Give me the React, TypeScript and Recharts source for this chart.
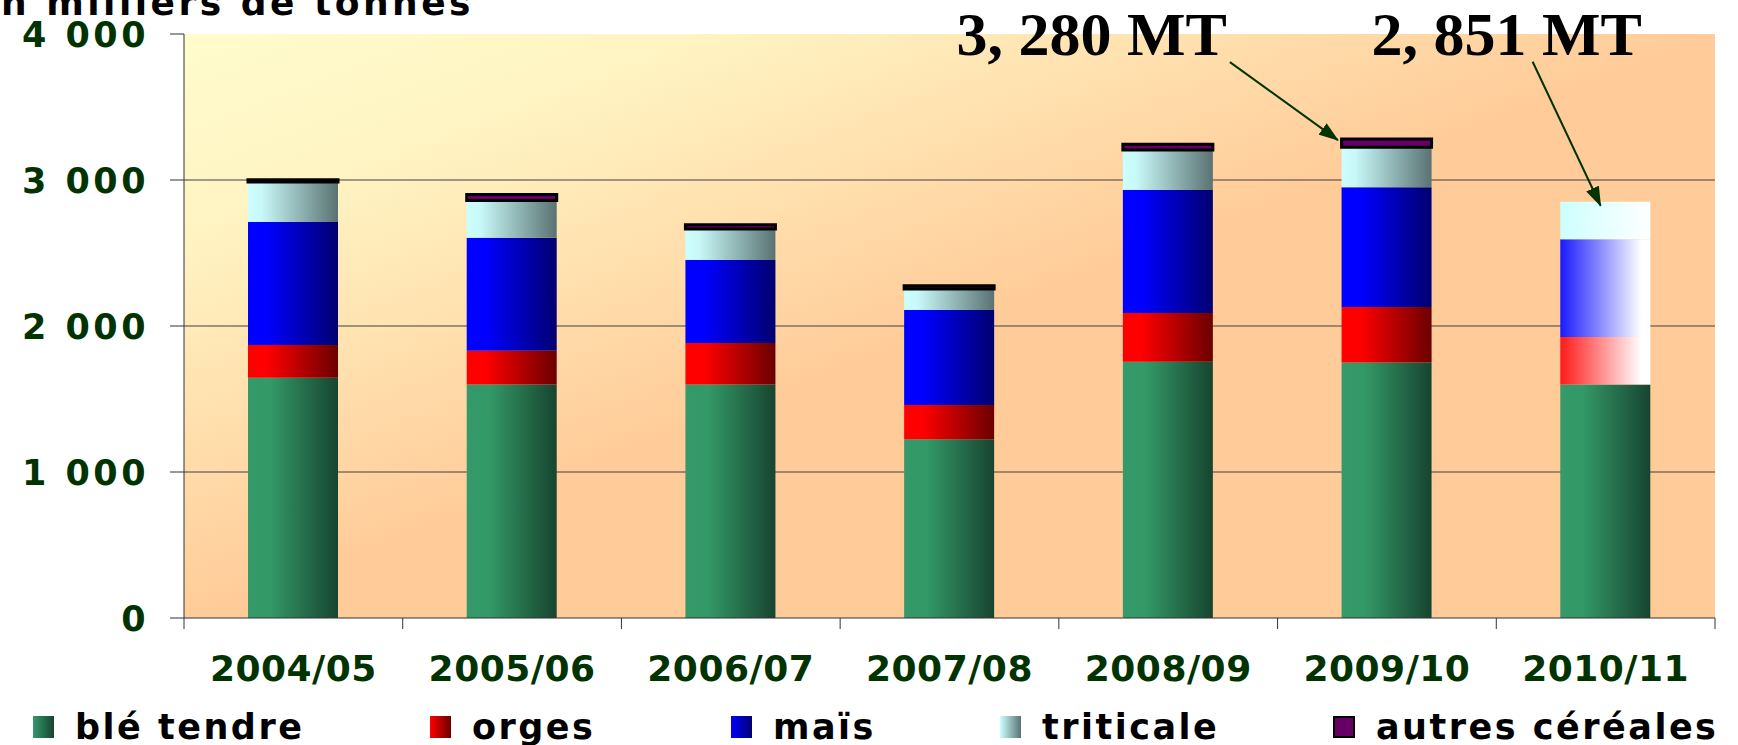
import React from 'react';
import { BarChart, Bar, XAxis, YAxis, CartesianGrid, Cell, ReferenceDot } from 'recharts';

const years = ['2004/05', '2005/06', '2006/07', '2007/08', '2008/09', '2009/10', '2010/11'];
const bleTendre = [1645, 1600, 1600, 1225, 1755, 1750, 1600];
const orges = [225, 230, 284, 234, 334, 380, 325];
const mais = [842, 775, 568, 651, 843, 820, 670];
const triticale = [274, 255, 212, 143, 273, 275, 256];
const autres = [15, 40, 30, 23, 40, 55, 0];
const yTicks = [0, 1000, 2000, 3000, 4000];
const gridValues = [1000, 2000, 3000];
const totalLabels = ['3, 280 MT', '2, 851 MT'];
const seriesNames = ['blé tendre', 'orges', 'maïs', 'triticale', 'autres céréales'];

const data = years.map((year, i) => ({
  year,
  ble: bleTendre[i],
  orges: orges[i],
  mais: mais[i],
  triticale: triticale[i],
  autres: autres[i],
}));

const total = (i: number) => bleTendre[i] + orges[i] + mais[i] + triticale[i] + autres[i];

const W = 1738;
const H = 745;
const M = { top: 34, right: 23, bottom: 0, left: 0 };
const YW = 184;
const XH = 127;
const BAND = (W - YW - M.right) / years.length;
const LAST = years.length - 1;
const FONT = '"DejaVu Sans", Verdana, sans-serif';
const GREEN = '#003300';

const fmt = (v: number) => (v === 0 ? '0' : `${Math.floor(v / 1000)} ${String(v % 1000).padStart(3, '0')}`);

const YTick = (props: any) => {
  const { x, y, payload } = props;
  return (
    <text x={x + 3} y={y + 13} textAnchor="end" fill={GREEN} fontFamily={FONT} fontWeight="bold" fontSize={35} letterSpacing={3.5}>
      {fmt(payload.value)}
    </text>
  );
};

const XTick = (props: any) => {
  const { x, y, payload, index } = props;
  const half = payload && payload.offset > 0 ? payload.offset : BAND / 2;
  return (
    <g>
      <line x1={x - half} x2={x - half} y1={y} y2={y + 11} stroke="#333" strokeWidth={1} />
      {index === LAST && <line x1={x + half} x2={x + half} y1={y} y2={y + 11} stroke="#333" strokeWidth={1} />}
      <text x={x} y={y + 63} textAnchor="middle" fill={GREEN} fontFamily={FONT} fontWeight="bold" fontSize={36} letterSpacing={0.5}>
        {payload.value}
      </text>
    </g>
  );
};

const makeCallout = (label: string, sx: number, sy: number, ex: number, ey: number, tx: number, ty: number, anchor: string) =>
  (props: any) => {
    const { cx, cy } = props;
    if (cx == null || cy == null) return null;
    return (
      <g>
        <line x1={cx + sx} y1={cy + sy} x2={cx + ex} y2={cy + ey} stroke={GREEN} strokeWidth={2} markerEnd="url(#arrowHead)" />
        <text x={cx + tx} y={cy + ty} textAnchor={anchor as any} fontFamily='"Liberation Serif", "Times New Roman", serif' fontWeight="bold" fontSize={62} fill="#000">
          {label}
        </text>
      </g>
    );
  };

const legendFills = [
  'linear-gradient(to right, #35996a, #174430)',
  'linear-gradient(to right, #ff0000, #6b0000)',
  'linear-gradient(to right, #0000ff, #000070)',
  'linear-gradient(to right, #ccffff, #5a7272)',
  '#660066',
];
const legendLeft = [33, 430, 731, 1000, 1333];

export default function App() {
  return (
    <div style={{ position: 'absolute', left: 0, top: 0, width: W, height: H, overflow: 'hidden', background: '#fff' }}>
      <BarChart width={W} height={H} data={data} margin={M} barSize={90}>
        <defs>
          <linearGradient id="bg" x1="0" y1="0" x2="1" y2="1">
            <stop offset="0" stopColor="#fffccc" />
            <stop offset="0.18" stopColor="#fff3c2" />
            <stop offset="0.5" stopColor="#ffcc99" />
            <stop offset="1" stopColor="#ffcc99" />
          </linearGradient>
          <linearGradient id="gBle" x1="0" y1="0" x2="1" y2="0">
            <stop offset="0" stopColor="#35996a" />
            <stop offset="0.25" stopColor="#339966" />
            <stop offset="1" stopColor="#174430" />
          </linearGradient>
          <linearGradient id="gOrges" x1="0" y1="0" x2="1" y2="0">
            <stop offset="0" stopColor="#ff0000" />
            <stop offset="0.2" stopColor="#ff0000" />
            <stop offset="1" stopColor="#6b0000" />
          </linearGradient>
          <linearGradient id="gMais" x1="0" y1="0" x2="1" y2="0">
            <stop offset="0" stopColor="#0000ff" />
            <stop offset="0.2" stopColor="#0000ff" />
            <stop offset="1" stopColor="#000070" />
          </linearGradient>
          <linearGradient id="gTrit" x1="0" y1="0" x2="1" y2="0">
            <stop offset="0" stopColor="#ccffff" />
            <stop offset="0.15" stopColor="#c8f8f8" />
            <stop offset="1" stopColor="#5a7272" />
          </linearGradient>
          <linearGradient id="gOrgesF" x1="0" y1="0" x2="1" y2="0">
            <stop offset="0" stopColor="#ff1a1a" />
            <stop offset="0.9" stopColor="#ffffff" />
            <stop offset="1" stopColor="#ffffff" />
          </linearGradient>
          <linearGradient id="gMaisF" x1="0" y1="0" x2="1" y2="0">
            <stop offset="0" stopColor="#1a1aff" />
            <stop offset="0.9" stopColor="#ffffff" />
            <stop offset="1" stopColor="#ffffff" />
          </linearGradient>
          <linearGradient id="gTritF" x1="0" y1="0" x2="1" y2="0">
            <stop offset="0" stopColor="#ccffff" />
            <stop offset="1" stopColor="#ffffff" />
          </linearGradient>
          <marker id="arrowHead" viewBox="0 0 20 14" refX="19" refY="7" markerWidth="20" markerHeight="14" markerUnits="userSpaceOnUse" orient="auto">
            <path d="M0,0 L20,7 L0,14 z" fill={GREEN} />
          </marker>
        </defs>
        <CartesianGrid vertical={false} horizontalValues={gridValues} stroke="#404040" fill="url(#bg)" fillOpacity={1} />
        <XAxis dataKey="year" height={XH} interval={0} tickLine={false} tickSize={0} tickMargin={0} axisLine={{ stroke: '#333' }} tick={<XTick />} />
        <YAxis width={YW} domain={[0, 4000]} ticks={yTicks} tickSize={14} tickMargin={24} axisLine={{ stroke: '#333' }} tickLine={{ stroke: '#333' }} tick={<YTick />} />
        <Bar dataKey="ble" stackId="a" fill="url(#gBle)" isAnimationActive={false} />
        <Bar dataKey="orges" stackId="a" fill="url(#gOrges)" isAnimationActive={false}>
          {data.map((_, i) => <Cell key={i} fill={i === LAST ? 'url(#gOrgesF)' : 'url(#gOrges)'} />)}
        </Bar>
        <Bar dataKey="mais" stackId="a" fill="url(#gMais)" isAnimationActive={false}>
          {data.map((_, i) => <Cell key={i} fill={i === LAST ? 'url(#gMaisF)' : 'url(#gMais)'} />)}
        </Bar>
        <Bar dataKey="triticale" stackId="a" fill="url(#gTrit)" isAnimationActive={false}>
          {data.map((_, i) => <Cell key={i} fill={i === LAST ? 'url(#gTritF)' : 'url(#gTrit)'} />)}
        </Bar>
        <Bar dataKey="autres" stackId="a" fill="#660066" stroke="#000" strokeWidth={3} isAnimationActive={false} />
        <ReferenceDot x={years[5]} y={total(5)} shape={makeCallout(totalLabels[0], -157, -77, -49, 1, -160, -84, 'end')} />
        <ReferenceDot x={years[6]} y={total(6)} shape={makeCallout(totalLabels[1], -73, -140, -5, 4, -99, -147, 'middle')} />
      </BarChart>
      <div style={{ position: 'absolute', right: W - 474, top: -17, height: 40, lineHeight: '40px', fontFamily: FONT, fontWeight: 'bold', fontSize: 36, letterSpacing: 3.5, color: '#000', whiteSpace: 'nowrap' }}>
        en milliers de tonnes
      </div>
      {seriesNames.map((name, i) => (
        <div key={name} style={{ position: 'absolute', left: legendLeft[i], top: 707, height: 40, display: 'flex', alignItems: 'center', whiteSpace: 'nowrap' }}>
          <span style={{ display: 'inline-block', width: i === 4 ? 18 : 21, height: i === 4 ? 18 : 22, background: legendFills[i], border: i === 4 ? '2px solid #000' : 'none', marginRight: 21 }} />
          <span style={{ fontFamily: FONT, fontWeight: 'bold', fontSize: 35, letterSpacing: 2.5, color: '#000', lineHeight: '40px' }}>{name}</span>
        </div>
      ))}
    </div>
  );
}
